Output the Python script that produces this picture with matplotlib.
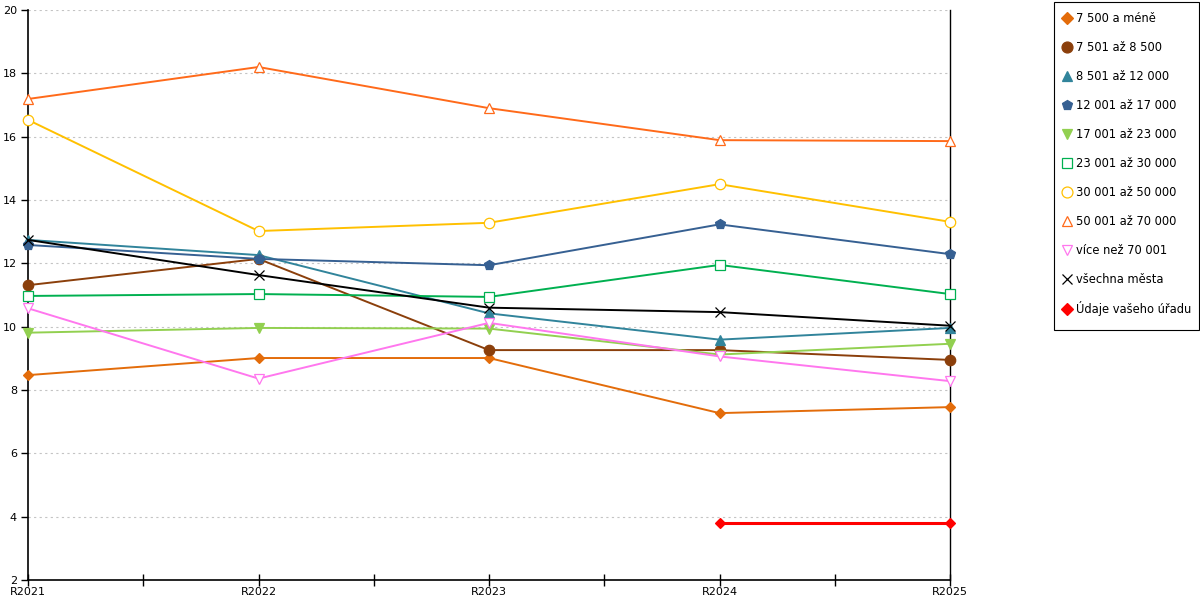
"""Line chart of indicator values by town-size category, R2021-R2025."""

import matplotlib

matplotlib.use("Agg")
import matplotlib.pyplot as plt
from matplotlib.lines import Line2D
from matplotlib.patches import Rectangle
from matplotlib.ticker import MultipleLocator, FixedLocator

years = ["R2021", "R2022", "R2023", "R2024", "R2025"]

labels = [
    "7 500 a méně",
    "7 501 až 8 500",
    "8 501 až 12 000",
    "12 001 až 17 000",
    "17 001 až 23 000",
    "23 001 až 30 000",
    "30 001 až 50 000",
    "50 001 až 70 000",
    "více než 70 001",
    "všechna města",
    "Údaje vašeho úřadu",
]

v_7500 = [8.47, 9.01, 9.01, 7.27, 7.46]
v_8500 = [11.31, 12.14, 9.26, 9.26, 8.95]
v_12000 = [12.74, 12.26, 10.42, 9.59, 9.96]
v_17000 = [12.58, 12.14, 11.94, 13.23, 12.29]
v_23000 = [9.81, 9.96, 9.94, 9.12, 9.46]
v_30000 = [10.97, 11.03, 10.94, 11.95, 11.03]
v_50000 = [16.53, 13.02, 13.28, 14.50, 13.31]
v_70000 = [17.19, 18.20, 16.90, 15.89, 15.86]
v_over = [10.58, 8.36, 10.12, 9.06, 8.28]
v_all = [12.74, 11.63, 10.60, 10.46, 10.03]
v_office = [None, None, None, 3.80, 3.80]

series = [v_7500, v_8500, v_12000, v_17000, v_23000, v_30000,
          v_50000, v_70000, v_over, v_all, v_office]

colors = ["#e36c0a", "#8b3f0b", "#31849b", "#366092", "#92d050", "#00b050",
          "#ffc000", "#ff6a1a", "#ff77ee", "#000000", "#ff0000"]
markers = ["D", "o", "^", "p", "v", "s", "o", "^", "v", "x", "D"]
filled = [True, True, True, True, True, False, False, False, False, True, True]
msizes = [5.5, 7.5, 7.5, 7.5, 7.5, 7.5, 7.5, 7.5, 7.5, 7.5, 5.5]

fig = plt.figure(figsize=(12, 6), dpi=100)
ax = fig.add_axes([28 / 1200, 20 / 600, 922 / 1200, 570 / 600])

handles = []
for i, vals in enumerate(series):
    xs = [j for j, v in enumerate(vals) if v is not None]
    ys = [v for v in vals if v is not None]
    face = colors[i] if filled[i] else "white"
    lw = 2.2 if i == len(series) - 1 else 1.4
    ax.plot(xs, ys, color=colors[i], linewidth=lw, marker=markers[i],
            markersize=msizes[i], markerfacecolor=face,
            markeredgecolor=colors[i], markeredgewidth=0.9, zorder=3,
            clip_on=False)
    handles.append(Line2D([], [], linestyle="none", marker=markers[i],
                          markersize=msizes[i] * 1.05, markerfacecolor=face,
                          markeredgecolor=colors[i], markeredgewidth=0.9))

ax.set_xlim(0, len(years) - 1)
ax.set_ylim(2, 20)
ax.set_xticks(range(len(years)))
ax.set_xticklabels(years, fontsize=8)
ax.xaxis.set_minor_locator(FixedLocator([0.5, 1.5, 2.5, 3.5]))
ax.tick_params(axis="x", which="both", direction="inout", length=8, width=1, pad=1)
ax.yaxis.set_major_locator(MultipleLocator(2))
ax.tick_params(axis="y", direction="out", length=5, width=1, labelsize=8, pad=3)

ax.grid(axis="y", color="#c4c4c4", linestyle=(0, (2, 3)), linewidth=0.8, zorder=0)
ax.set_axisbelow(True)

ax.spines["top"].set_visible(False)
ax.spines["right"].set_linewidth(1.0)
ax.spines["left"].set_linewidth(1.2)
ax.spines["bottom"].set_linewidth(1.2)

# legend box drawn separately so the padding can differ per side
fig.patches.append(Rectangle((1054 / 1200, 1 - 330 / 600), 145 / 1200, 328 / 600,
                             transform=fig.transFigure, facecolor="white",
                             edgecolor="black", linewidth=0.8))
fig.legend(handles, labels, loc="upper left",
           bbox_to_anchor=(1062.4 / 1200, 1 - 12.4 / 600),
           fontsize=8.3, frameon=False,
           labelspacing=1.38, handlelength=0.8, handletextpad=0.38,
           borderpad=0, borderaxespad=0)

fig.savefig("out.png", dpi=100)
